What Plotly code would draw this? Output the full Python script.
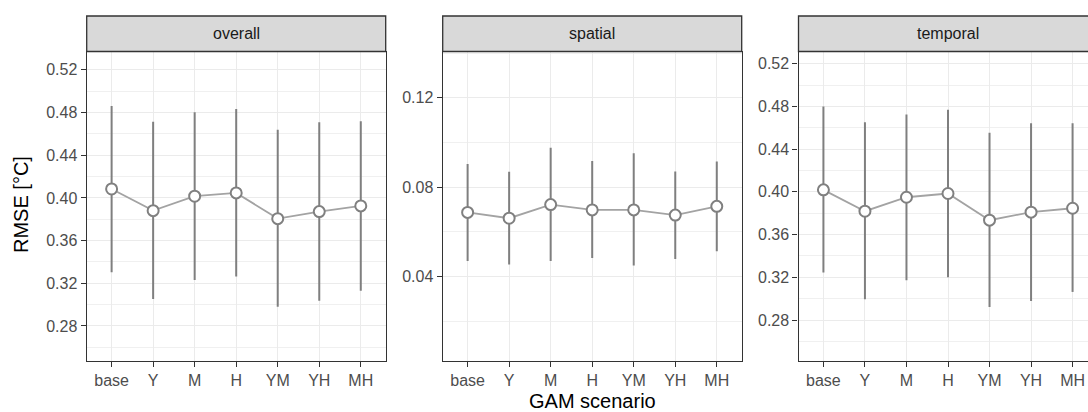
import plotly.graph_objects as go

scenarios = ["base", "Y", "M", "H", "YM", "YH", "MH"]
facets = ["overall", "spatial", "temporal"]

overall_mean = [0.4084, 0.3881, 0.4016, 0.4047, 0.3806, 0.3872, 0.3925]
overall_lo = [0.3303, 0.3053, 0.3231, 0.3263, 0.2981, 0.3037, 0.3131]
overall_hi = [0.4862, 0.4713, 0.4803, 0.4834, 0.4638, 0.4709, 0.4719]

spatial_mean = [0.0687, 0.0661, 0.0722, 0.0698, 0.0698, 0.0675, 0.0714]
spatial_lo = [0.0470, 0.0454, 0.0470, 0.0483, 0.0449, 0.0479, 0.0513]
spatial_hi = [0.0904, 0.0869, 0.0976, 0.0917, 0.0952, 0.0870, 0.0915]

temporal_mean = [0.4019, 0.3819, 0.3950, 0.3985, 0.3735, 0.3810, 0.3847]
temporal_lo = [0.3244, 0.2994, 0.3172, 0.3200, 0.2922, 0.2978, 0.3063]
temporal_hi = [0.4801, 0.4653, 0.4726, 0.4769, 0.4553, 0.4644, 0.4644]

y_ranges = [[0.2472, 0.5372], [0.0022, 0.1407], [0.2416, 0.5315]]

W, H = 1088, 412
FONT = "Liberation Sans, Arial, Helvetica, sans-serif"

# panel pixel extents (left, right); panel 3 is cut by the right edge
panels_px = [(86.7, 385.7), (442.7, 741.7), (798.5, 1097.5)]
top_px, bot_px, strip_top_px = 51.5, 361.0, 16.0
unit_px = 299.0 / 7.2

def px_x(p):
    return p / W

def px_y(p):
    return (H - p) / H

fig = go.Figure()
data = [(overall_mean, overall_lo, overall_hi),
        (spatial_mean, spatial_lo, spatial_hi),
        (temporal_mean, temporal_lo, temporal_hi)]

for i, (m, lo, hi) in enumerate(data):
    xa = "x" if i == 0 else f"x{i+1}"
    ya = "y" if i == 0 else f"y{i+1}"
    fig.add_trace(go.Scatter(
        x=scenarios, y=m, mode="markers", xaxis=xa, yaxis=ya,
        marker=dict(size=0.1, color="rgba(0,0,0,0)"),
        error_y=dict(type="data", symmetric=False,
                     array=[h - v for h, v in zip(hi, m)],
                     arrayminus=[v - l for v, l in zip(m, lo)],
                     color="#7f7f7f", thickness=2, width=0),
        showlegend=False, hoverinfo="skip"))
    fig.add_trace(go.Scatter(
        x=scenarios, y=m, mode="lines+markers", xaxis=xa, yaxis=ya,
        line=dict(color="#a3a3a3", width=1.8),
        marker=dict(size=11, color="white", line=dict(color="#808080", width=2)),
        showlegend=False))

layout = dict(width=W, height=H, margin=dict(l=0, r=0, t=0, b=0),
              paper_bgcolor="white", plot_bgcolor="white", showlegend=False)

for i in range(3):
    l, r = panels_px[i]
    r_clip = min(r, W)
    xname = "xaxis" if i == 0 else f"xaxis{i+1}"
    yname = "yaxis" if i == 0 else f"yaxis{i+1}"
    yref = "y" if i == 0 else f"y{i+1}"
    xr_hi = -0.6 + (r_clip - l) / unit_px
    layout[xname] = dict(
        domain=[px_x(l), px_x(r_clip)], anchor=yref, type="category",
        categoryorder="array", categoryarray=scenarios,
        range=[-0.6, xr_hi], showgrid=True, gridcolor="#ebebeb", gridwidth=1.3,
        showline=True, linecolor="#333333", linewidth=1.3, mirror=(i < 2),
        ticks="outside", ticklen=5, tickwidth=1.3, tickcolor="#333333",
        tickfont=dict(family=FONT, size=16, color="#4d4d4d"),
        zeroline=False, fixedrange=True)
    layout[yname] = dict(
        domain=[px_y(bot_px), px_y(top_px)], anchor="x" if i == 0 else f"x{i+1}",
        range=y_ranges[i], tick0=0, dtick=0.04, tickformat=".2f",
        showgrid=True, gridcolor="#ebebeb", gridwidth=1.3,
        minor=dict(dtick=0.02, tick0=0, showgrid=True, gridcolor="#f0f0f0", gridwidth=0.8),
        showline=True, linecolor="#333333", linewidth=1.3, mirror=(i < 2),
        ticks="outside", ticklen=5, tickwidth=1.3, tickcolor="#333333",
        tickfont=dict(family=FONT, size=16, color="#4d4d4d"),
        zeroline=False, fixedrange=True)

shapes = []
annotations = []
for i, name in enumerate(facets):
    l, r = panels_px[i]
    shapes.append(dict(type="rect", xref="paper", yref="paper",
                       x0=px_x(l), x1=px_x(r), y0=px_y(top_px), y1=px_y(strip_top_px),
                       fillcolor="#d9d9d9", line=dict(color="#333333", width=1.3),
                       layer="above"))
    annotations.append(dict(text=name, xref="paper", yref="paper",
                            x=px_x((l + r) / 2), y=px_y((top_px + strip_top_px) / 2),
                            xanchor="center", yanchor="middle", showarrow=False,
                            font=dict(family=FONT, size=16, color="#1a1a1a")))

annotations.append(dict(text="GAM scenario", xref="paper", yref="paper",
                        x=px_x(592), y=px_y(400.5), xanchor="center", yanchor="middle",
                        showarrow=False, font=dict(family=FONT, size=20, color="black")))
annotations.append(dict(text="RMSE [°C]", xref="paper", yref="paper",
                        x=px_x(21), y=px_y(205), xanchor="center", yanchor="middle",
                        textangle=-90, showarrow=False,
                        font=dict(family=FONT, size=20, color="black")))

layout["shapes"] = shapes
layout["annotations"] = annotations
fig.update_layout(**layout)

fig.write_html(
    "out.html",
    config={"displayModeBar": False},
    post_script="document.body.style.margin='0';document.body.style.overflow='hidden';"
                "document.documentElement.style.overflow='hidden';",
)
